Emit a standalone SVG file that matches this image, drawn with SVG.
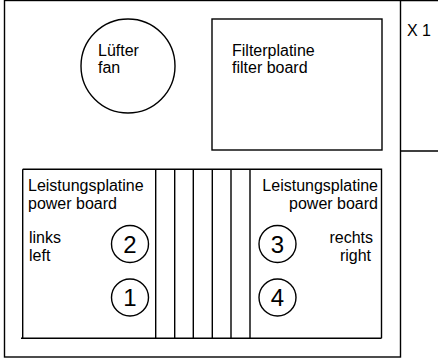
<svg xmlns="http://www.w3.org/2000/svg" width="438" height="358" viewBox="0 0 438 358">
<style>
.s{fill:none;stroke:#000;stroke-width:1.4}
.t{font-family:"Liberation Sans",Arial,sans-serif;font-size:16px;fill:#000}
.r{text-anchor:end}
.d{font-family:"Liberation Sans",Arial,sans-serif;font-size:24px;fill:#000;text-anchor:middle}
</style>
<rect width="438" height="358" fill="#fff"/>
<g id="housing">
<rect class="s" x="4.5" y="0.5" width="396" height="356.5"/>
</g>
<g id="x1">
<path class="s" d="M400.5 0.5H438M400.5 151H438"/>
<text class="t" x="407" y="36">X 1</text>
</g>
<g id="fan">
<circle class="s" cx="128" cy="66" r="47"/>
<text class="t" x="98" y="56">Lüfter</text>
<text class="t" x="98" y="73">fan</text>
</g>
<g id="filterboard">
<rect class="s" x="212" y="19" width="170" height="131"/>
<text class="t" x="232" y="56">Filterplatine</text>
<text class="t" x="232" y="73">filter board</text>
</g>
<g id="powerboard">
<path class="s" d="M22.7 169.3H381.5V338.3M22.7 169.3V338.3M21 338.3H381.5"/>
<path class="s" d="M155.7 169.3V338.3M174.7 169.3V338.3M193.3 169.3V338.3M212.3 169.3V338.3M231 169.3V338.3M250 169.3V338.3"/>
</g>
<g id="powerboard-left">
<text class="t" x="28" y="191">Leistungsplatine</text>
<text class="t" x="28" y="209">power board</text>
<text class="t" x="29" y="243">links</text>
<text class="t" x="29" y="261">left</text>
</g>
<g id="powerboard-right">
<text class="t r" x="378" y="191">Leistungsplatine</text>
<text class="t r" x="378" y="209">power board</text>
<text class="t r" x="373" y="243">rechts</text>
<text class="t r" x="371" y="261">right</text>
</g>
<g id="pos2"><circle class="s" cx="130" cy="244" r="18.5"/><text class="d" x="130" y="252.5">2</text></g>
<g id="pos1"><circle class="s" cx="130" cy="297.5" r="18.5"/><text class="d" x="130" y="306">1</text></g>
<g id="pos3"><circle class="s" cx="277.5" cy="244" r="18.5"/><text class="d" x="277.5" y="252.5">3</text></g>
<g id="pos4"><circle class="s" cx="277.5" cy="297.5" r="18.5"/><text class="d" x="277.5" y="306">4</text></g>
</svg>
